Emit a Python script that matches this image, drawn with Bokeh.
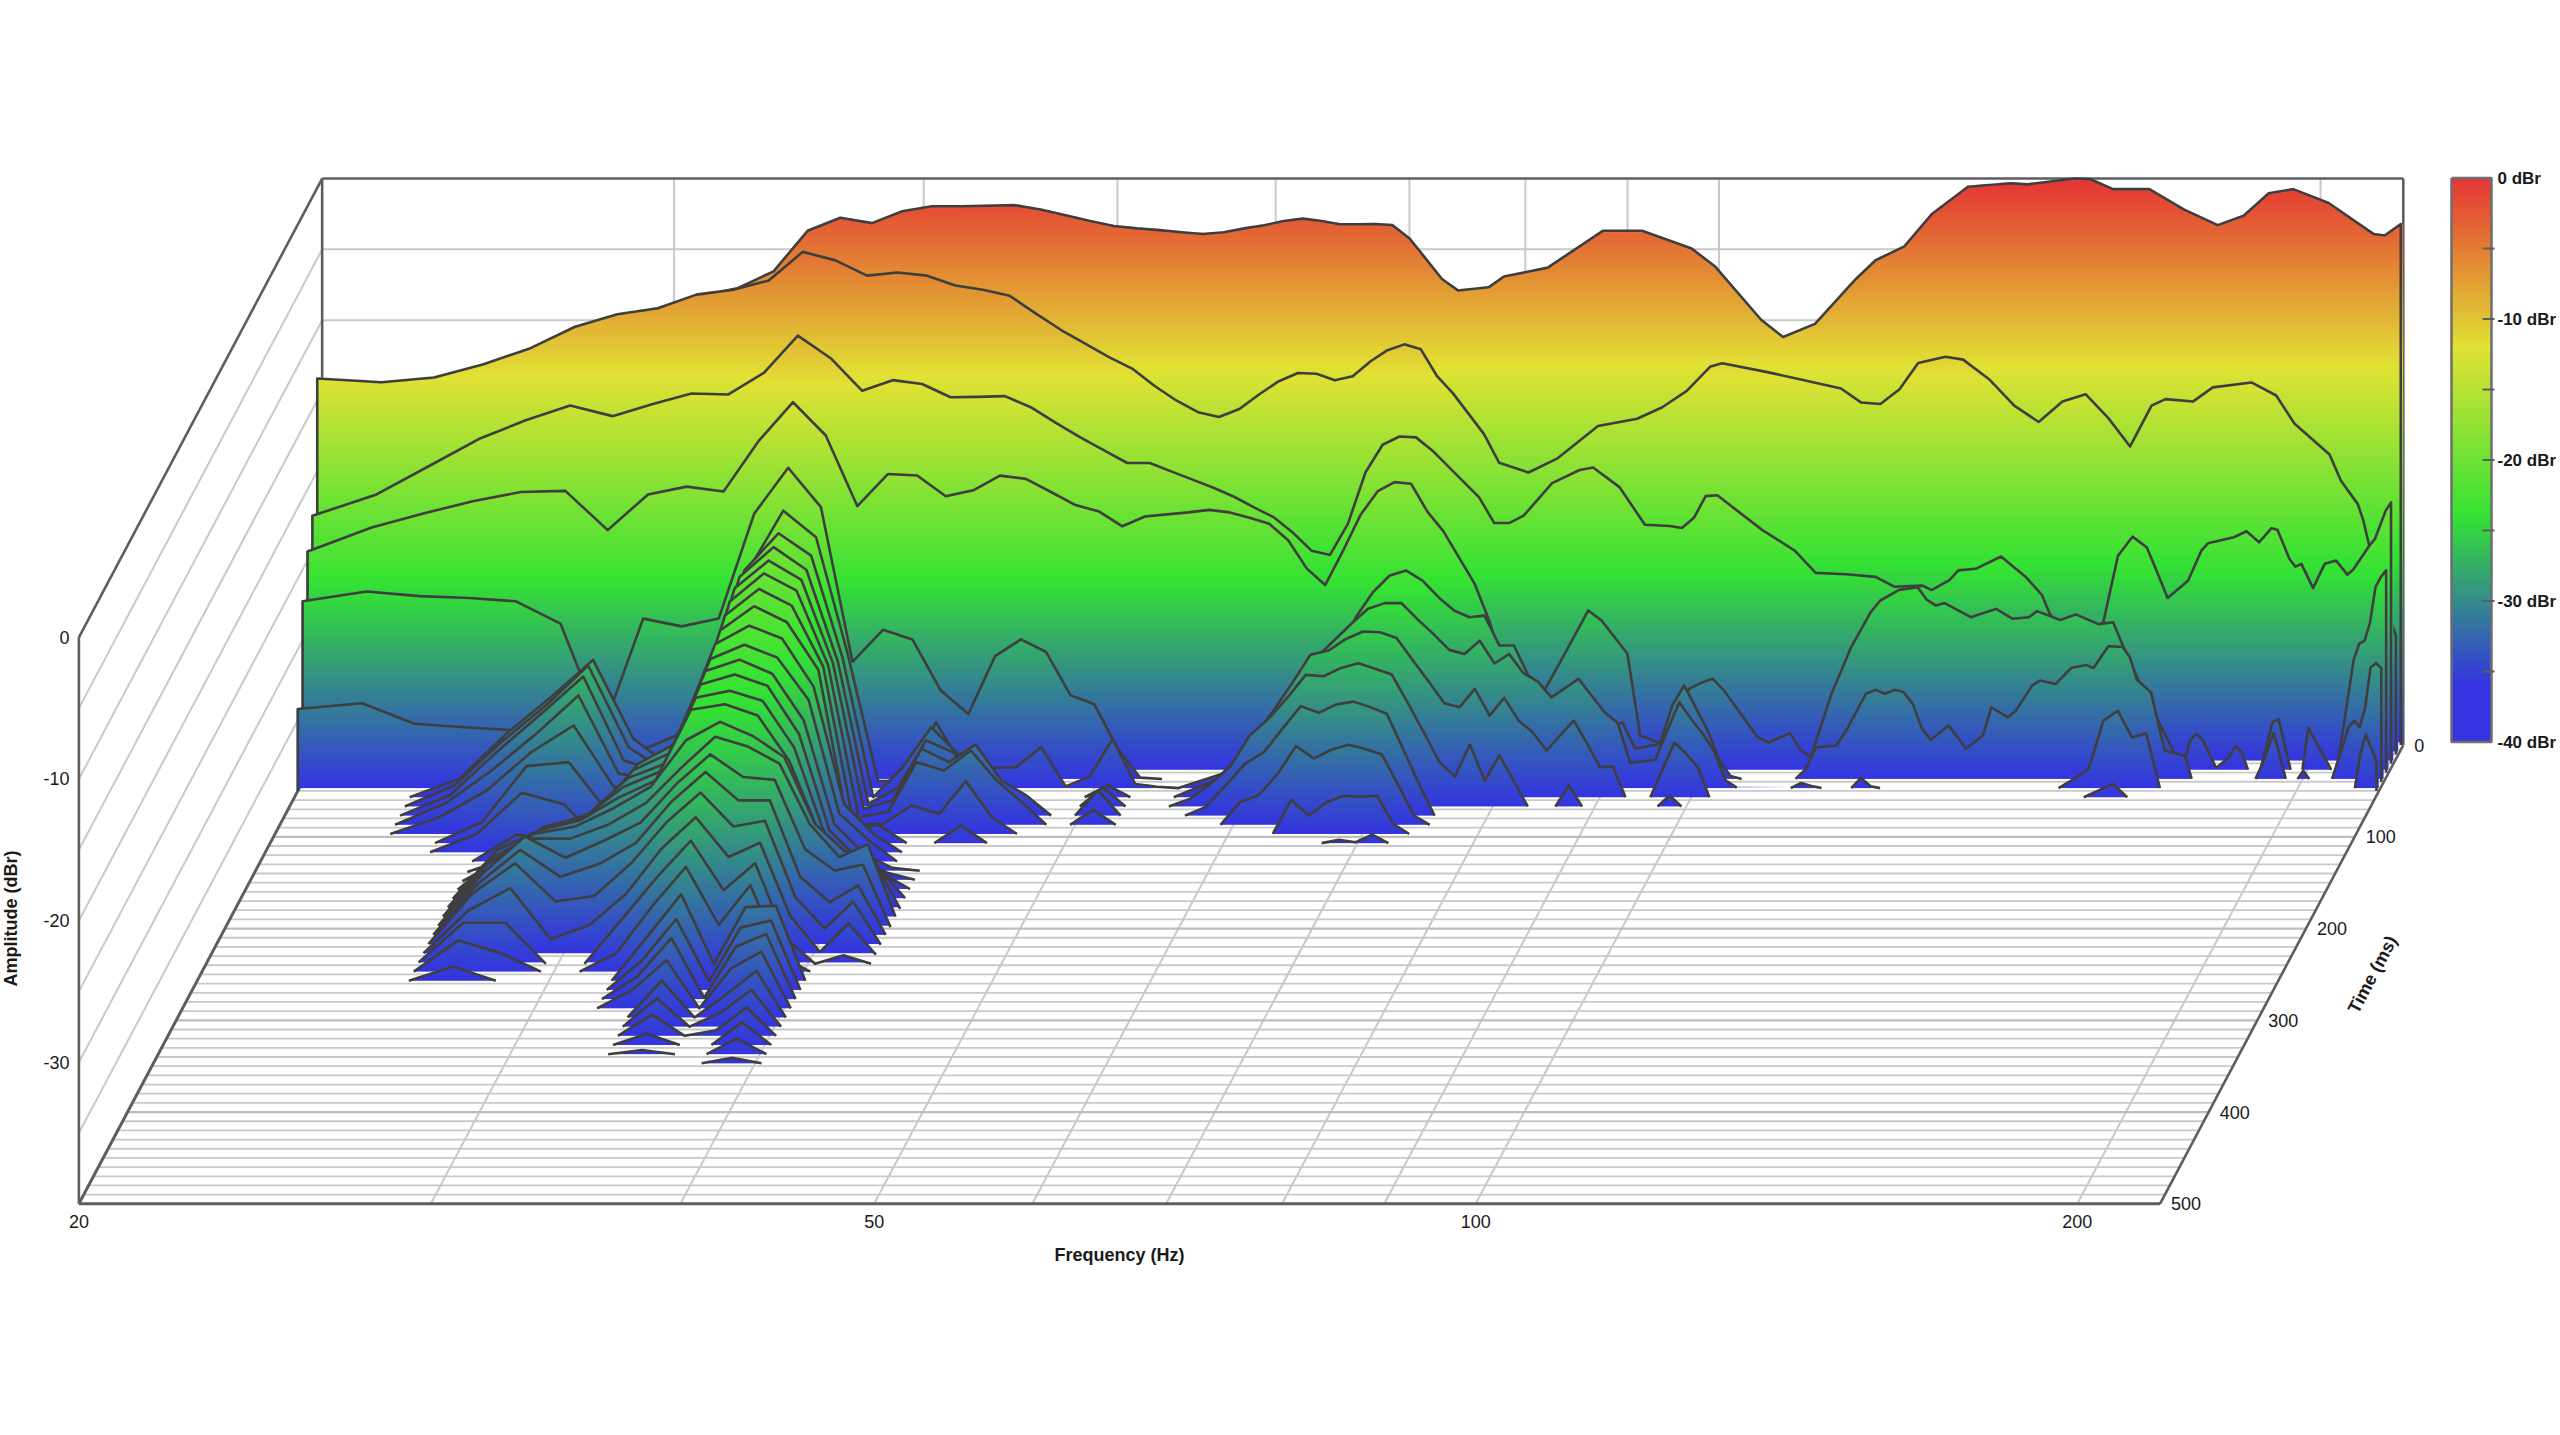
import numpy as np
from bokeh.plotting import figure
from bokeh.embed import file_html
from bokeh.resources import INLINE
from bokeh.core.properties import value

# ---------- data ----------
BIN_HZ = 1.3458
T000_BIN = [14.86,16,17,18,19,20,21,22,23,24,25,26,27,28,29,30,31,32,33,34,35,36,37,38,39,40,41,42,43,44,45,46,47,48,49,50,51,52,53,
            54,55,57,58,61,65,68,72,74,78,80,83,87,89,92,95,99,104,106,112,114,117,122,127,132,136,140,144,150,158,160,163]
T000_DB = [-14.4,-14.53,-14.18,-13.26,-12.1,-10.5,-9.75,-9.2,-8.3,-7.73,-6.55,-3.69,-2.77,-3.15,-2.31,-1.96,-1.96,-1.92,-1.88,-2.19,-2.59,-3.0,-3.35,-3.52,-3.64,-3.79,-3.92,-3.79,-3.52,-3.3,-3.0,-2.83,-3.0,-3.23,-3.23,-3.21,-3.29,-4.21,-5.65,
           -7.09,-7.9,-7.67,-6.92,-6.29,-3.69,-3.69,-4.94,-6.23,-9.97,-11.19,-10.26,-7.09,-5.77,-4.79,-2.48,-0.58,-0.33,-0.41,0.0,-0.05,-0.75,-0.75,-2.19,-3.29,-2.63,-1.04,-0.75,-1.73,-3.92,-4.02,-3.21]
T010_BIN = [14.86,16,17,18,19,20,21,22,23,24,25,26,27,28,29,30,31,32,33,34,35,36,37,38,39,40,41,42,43,44,45,46,47,48,49,50,51,52,53,
            54,55,57,58,60,62,65,68,70,72,74,75,79,82,86,88,90,92,94,97,99,102,105,108,111,114,117,120,123,125,129,132,138,142,145,151,153,156,157,158,160,163]
T010_DB = [-13.47,-13.73,-13.4,-12.47,-11.33,-9.82,-8.93,-8.51,-7.55,-7.2,-6.55,-4.53,-5.13,-6.21,-5.99,-6.21,-6.91,-7.2,-7.63,-8.87,-10.03,-11.01,-11.96,-12.77,-14.0,-15.04,-15.85,-16.19,-15.62,-14.58,-13.66,-13.08,-13.14,-13.6,-13.31,-12.27,-11.47,-11.06,-11.41,
           -13.31,-14.52,-17.4,-19.42,-20.11,-19.13,-16.83,-16.31,-15.5,-14.35,-12.62,-12.39,-13.02,-13.52,-14.18,-15.16,-15.27,-14.23,-12.37,-11.93,-12.14,-13.52,-15.39,-16.54,-15.1,-14.58,-16.25,-18.27,-15.39,-14.93,-15.1,-14.1,-13.75,-14.67,-16.65,-18.84,-20.69,-22.34,-23.51,-25.16,-28.3,-31.64]
T020_BIN = [14.86,16,17,18,19,20,21,22,23,24,25,26,27,28,29,30,31,32,33,34,35,36,37,38,39,40,41,42,43,44,45,46,47,48,49,50,51,52,53,
            54,57,58,59,60,62,64,65,67,69,71,72,73,74,75,79,82,84,87,90,92,95,96,98,99,101,104,107,109,110,113,117,119,121,123,124,126,129,131,132,136,138,140,142,143,145,146,147,149,151,153,155,156,159,160,162,163]
T020_DB = [-22.52,-21.01,-19.0,-17.1,-15.77,-14.73,-15.48,-14.62,-13.88,-13.95,-12.43,-9.8,-11.39,-13.69,-12.94,-13.21,-14.15,-14.12,-14.07,-14.85,-15.95,-16.98,-17.9,-18.79,-18.79,-19.4,-19.98,-20.55,-21.19,-21.94,-22.63,-23.72,-24.99,-25.28,-23.09,-19.46,-17.5,-16.92,-16.98,
           -17.9,-21.22,-23.03,-23.03,-22.51,-20.21,-19.28,-19.11,-20.49,-23.15,-23.24,-23.38,-22.66,-21.13,-21.07,-23.53,-24.97,-26.55,-26.64,-26.83,-27.53,-27.45,-27.76,-27.06,-26.37,-26.26,-25.39,-26.83,-28.1,-29.43,-31.67,-30.04,-25.34,-23.99,-24.74,-25.91,-28.32,-27.1,-24.98,-24.46,-24.03,-23.61,-24.39,-23.4,-23.51,-25.57,-26.11,-25.91,-27.62,-25.91,-25.68,-26.67,-26.34,-24.62,-24.15,-22.15,-21.57]

T030_BIN = [14.86,16,17,18,19,20,21,22,23,24,25,26,27,28,29,30,31,32,33,34,35,36,37,38,39,40,41,42,43,44,45,46,47,48,49,50,51,52,53,
            54,55,56,57,58,59,61,63,65,66,68,69,71,73,74,75,76,79,80,82,83,84,86,88,90,91,93,95,96,97,98,101,104,106,108,109,112,114,117,119,121,124,127,129,130,131,132,134,136,137,138,139,141,143,144,146,148,149,153,154,157,158,159,160,161,162,163]
T030_DB = [-24.39,-22.7,-21.69,-20.82,-20.19,-20.11,-22.88,-20.36,-19.81,-20.15,-16.56,-13.85,-16.2,-21.19,-18.92,-19.02,-20.49,-20.07,-19.03,-19.26,-20.19,-21.11,-21.57,-22.61,-21.92,-21.77,-21.63,-21.45,-21.63,-22.0,-22.43,-23.59,-25.6,-26.76,-24.34,-21.8,-20.13,-19.49,-19.61,
           -21.57,-22.95,-24.8,-26.62,-29.29,-32.75,-35.63,-32.08,-28.55,-29.26,-31.61,-37.38,-38.05,-34.09,-33.67,-33.37,-34.2,-37.5,-37.89,-37.21,-38.4,-38.91,-34.48,-31.14,-28.67,-27.85,-27.1,-26.91,-27.79,-28.2,-28.03,-29.03,-28.44,-29.14,-29.03,-28.6,-29.22,-28.83,-29.52,-29.39,-31.83,-35.06,-37.94,-39.8,-37.74,-37.27,-37.74,-39.67,-38.92,-38.13,-38.56,-39.8,-39.8,-36.44,-36.25,-39.8,-39.8,-36.84,-39.8,-39.8,-32.06,-30.91,-30.68,-29.39,-26.91,-26.2,-25.72]

T040_BIN = [14.86,16,17,18,19,20,21,22,23,24,25,26,27,28,29,30,31,32,33,34,35,36,37,38,39,40,
            46,48,50,51,52,53,54,55,56,57,58,59,60,61,62,63,66,68,69,71,72,73,75,76,77,78,
            83,84,85,87,88,90,91,92,93,94,95,96,97,99,101,103,104,106,107,109,110,112,114,116,117,119,121,122,123,125,127,130,131,
            141,142,144,146,148,149,150,154,157,158,159,160,161,162,163]
T040_DB = [-27.26,-26.57,-26.89,-27.03,-27.26,-28.83,-36.37,-28.48,-29.03,-28.48,-21.08,-17.83,-20.61,-31.53,-29.27,-29.95,-33.56,-35.22,-31.13,-29.95,-30.84,-33.9,-34.53,-37.64,-39.71,-39.8,
           -39.8,-33.26,-28.4,-26.62,-25.44,-25.09,-25.8,-26.97,-27.91,-28.38,-28.27,-30.38,-30.38,-32.5,-33.26,-35.56,-36.14,-35.84,-37.67,-37.33,-34.62,-33.2,-36.37,-38.45,-39.6,-39.8,
           -39.8,-39.09,-37.56,-37.44,-36.37,-33.79,-33.51,-33.79,-33.51,-33.67,-34.5,-36.25,-37.04,-36.02,-37.67,-36.74,-34.74,-35.45,-34.97,-33.21,-32.85,-33.1,-31.97,-31.76,-31.97,-30.43,-30.49,-31.2,-32.8,-33.69,-37.8,-38.16,-39.8,
           -39.8,-38.86,-36.55,-39.8,-39.8,-39.22,-39.8,-39.8,-36.14,-35.68,-36.14,-34.74,-31.92,-31.63,-31.97]

T050_BIN = [14.86,16,17,18,19,20,21,22,23,24,25,26,27,28,29,30,31,32,33,34,35,36,37,38,39,40,41,
            44,46,48,50,51,52,53,54,55,56,57,58,59,60,61,62,63,65,67,68,69,71,73,74,75,76,77,78,
            83,84,85,86,89,90,91,92,113,115,117,119,121,123,125,127,159,160,161,163]
T050_DB = [-34.22,-33.81,-35.26,-35.5,-35.7,-36.3,-36.76,-37.22,-36.07,-31.46,-24.31,-20.21,-22.09,-30.31,-39.3,-39.26,-35.15,-38.38,-38.38,-38.32,-36.91,-39.69,-38.99,-36.33,-39.51,-39.7,-39.8,
           -38.38,-35.5,-30.65,-28.23,-27.14,-26.74,-26.74,-27.89,-28.93,-30.04,-30.33,-29.39,-31.0,-30.33,-31.69,-32.27,-33.39,-32.09,-34.46,-35.2,-38.03,-37.8,-33.73,-34.92,-35.96,-37.22,-39.26,-39.76,
           -39.8,-39.44,-39.65,-39.8,-39.8,-39.08,-39.67,-39.8,-39.8,-39.17,-38.45,-35.04,-34.34,-36.22,-35.93,-39.8,-39.8,-37.39,-36.03,-37.86]

T060_BIN = [17,18,19,20,21,22,23,24,25,26,27,28,29,30,31,32,33,34,37,38,39,41,42,43,44,45,46,47,48,49,50,51,52,53,54,55,56,57,58,59,60,61,62,63,64,65,66,67,68,69,71,72,73,74,75,76,117,121,123]
T060_DB = [-39.8,-38.5,-35.32,-32.73,-30.1,-35.67,-37.73,-31.96,-23.78,-21.16,-22.74,-30.0,-39.8,-37.7,-34.85,-36.8,-38.5,-39.8,-39.8,-38.97,-39.8,-39.8,-39.2,-38.63,-37.21,-35.42,-33.68,-31.73,-29.73,-29.44,-28.62,-28.1,-28.15,-28.55,-30.12,-31.62,-33.16,-33.44,-32.15,-34.04,-32.78,-34.38,-35.21,-36.5,-35.42,-34.38,-36.0,-37.68,-37.62,-39.8,-39.8,-37.84,-35.95,-36.73,-37.68,-39.8,-39.8,-38.86,-39.8]

T070_BIN = [17,18,19,20,21,22,23,24,25,26,27,28,29,30,31,32,33,34,37,38,39,41,42,43,44,45,46,47,48,49,50,51,52,53,54,55,56,57,58,59,60,61,62,64,65,66,72,73,74]
T070_DB = [-39.8,-38.32,-35.26,-32.67,-29.85,-35.62,-37.42,-31.89,-23.59,-21.49,-23.09,-29.58,-39.61,-38.5,-35.14,-36.0,-38.0,-39.8,-39.8,-38.44,-39.8,-39.8,-39.27,-38.21,-37.0,-34.79,-33.6,-32.12,-30.51,-30.61,-30.02,-29.69,-30.08,-30.48,-32.51,-34.57,-36.67,-37.69,-35.43,-37.98,-36.21,-38.0,-39.8,-39.8,-38.32,-39.8,-39.8,-39.03,-39.8]

T080_BIN = [17,18,19,20,21,22,23,24,25,26,27,28,29,30,31,32,33,34,35,36,37,38,39,42,43,44,45,46,47,48,49,50,51,52,53,54,55,56]
T080_DB = [-39.8,-38.38,-35.32,-32.62,-29.98,-35.91,-36.77,-31.82,-23.75,-21.79,-23.16,-29.05,-39.31,-38.73,-35.08,-36.02,-34.78,-37.32,-38.39,-39.8,-39.8,-38.02,-39.8,-39.8,-39.2,-37.7,-36.15,-35.32,-33.66,-32.07,-32.54,-31.95,-31.75,-32.14,-32.61,-35.09,-37.56,-39.8]

T090_BIN = [17,18,19,20,21,22,23,24,25,26,27,28,29,30,31,32,33,34,35,36,37,38,39,44,45,46,47,48,49,50,51,52,53,54,55,56]
T090_DB = [-39.8,-38.32,-35.97,-33.38,-30.67,-36.2,-36.6,-32.33,-24.03,-22.05,-23.27,-28.53,-39.25,-38.9,-35.38,-35.97,-34.55,-36.68,-38.2,-39.8,-39.8,-38.75,-39.8,-39.8,-38.21,-37.7,-36.21,-34.25,-35.11,-34.5,-34.14,-34.45,-34.84,-37.0,-39.15,-39.8]

T100_BIN = [17,18,19,20,21,22,23,24,25,26,27,28,29,30,31,32,33,34,35,47,48,49,50,51,52,53,54,55]
T100_DB = [-39.8,-38.61,-36.73,-34.02,-32.14,-36.49,-36.29,-32.49,-24.38,-22.5,-23.68,-27.99,-39.17,-39.09,-37.79,-38.38,-36.07,-38.62,-39.8,-39.8,-37.4,-38.5,-37.56,-37.1,-37.17,-37.1,-39.09,-39.8]

T110_BIN = [18,19,20,21,22,23,24,25,26,27,28,29,30,31,32,33,34,50,51,52,53,54]
T110_DB = [-39.8,-38.32,-34.36,-34.08,-37.73,-36.21,-32.76,-24.79,-23.07,-24.2,-27.57,-38.87,-38.52,-39.8,-39.8,-38.56,-39.8,-39.8,-39.57,-39.74,-39.2,-39.8]

T120_BIN = [18,19,20,21,22,23,24,25,26,27,28,29,30,31]
T120_DB = [-39.8,-38.5,-35.6,-36.4,-39.4,-35.6,-31.4,-25.1,-23.8,-24.7,-28.1,-36.4,-38.5,-39.8]

T130_BIN = [19,20,21,22,23,24,25,26,27,28,29,30,31]
T130_DB = [-39.8,-37.9,-38.3,-36.4,-32.9,-31.5,-25.5,-24.5,-25.4,-28.4,-36.4,-38.3,-39.8]
T140_BIN = [19,20,21,22,23,24,25,26,27,28,29,30,31,32]
T140_DB = [-39.9,-38.8,-37.2,-35.8,-32.7,-31.5,-25.7,-24.9,-25.9,-29.2,-36.5,-38.6,-39.6,-39.8]
T150_BIN = [19,20,21,22,23,24,25,26,27,28,29,30,31,32]
T150_DB = [-39.9,-38.2,-36.1,-35.1,-32.6,-31.6,-26.0,-25.3,-26.1,-29.5,-36.3,-38.4,-39.3,-39.8]
T160_DB = [-39.85,-37.3,-35.4,-34.7,-32.6,-31.5,-26.3,-25.8,-26.5,-29.8,-35.9,-38.0,-38.7,-39.8]
T170_DB = [-39.84,-36.4,-35.0,-34.3,-32.7,-31.5,-26.5,-26.1,-26.9,-30.1,-35.3,-37.1,-37.6,-39.8]
T180_DB = [-39.8,-36.3,-34.6,-34.1,-32.8,-31.3,-28.0,-26.7,-27.7,-29.2,-33.9,-35.8,-36.3,-39.9]
T190_DB = [-39.8,-36.1,-34.3,-34.3,-33.3,-31.8,-29.3,-27.1,-27.8,-29.0,-33.3,-35.6,-34.7,-39.8]
T200_DB = [-39.8,-36.1,-33.5,-35.0,-33.8,-32.5,-29.8,-27.7,-29.3,-29.5,-34.4,-35.9,-35.5,-39.9]
T210_DB = [-39.8,-36.2,-33.8,-35.7,-34.8,-33.3,-30.4,-28.3,-30.3,-30.3,-35.7,-37.5,-36.3,-39.8]
T220_DB = [-39.8,-36.2,-34.1,-36.8,-36.4,-34.1,-31.2,-29.1,-31.5,-31.1,-36.5,-38.7,-36.8,-39.85]
T230_DB = [-39.8,-36.8,-35.2,-38.8,-37.8,-35.6,-32.4,-30.2,-33.0,-32.0,-37.2,-39.7,-37.7,-39.9]
T240_DB = [-39.8,-37.0,-37.0,-39.9,-39.9,-36.8,-33.8,-31.2,-34.7,-32.8,-38.1,-39.9,-39.3,-39.9]
RIDGE_BIN = [19,20,21,22,23,24,25,26,27,28,29,30,31,32]
T250_BIN = [19,20,21,22,23,24,25,26,27,28,29,30]
T250_DB = [-39.8,-37.6,-38.5,-39.8,-39.8,-38.5,-35.2,-32.4,-36.5,-33.7,-38.7,-39.8]
T260_DB = [-39.8,-38.8,-39.8,-39.9,-39.9,-39.8,-36.7,-33.7,-38.6,-34.6,-34.5,-39.8]
T270_BIN = [24,25,26,27,28,29,30]
T270_DB = [-39.8,-37.7,-34.8,-39.2,-35.4,-34.9,-39.8]
T280_DB = [-39.8,-38.2,-35.5,-39.7,-36.1,-35.2,-39.8]
T290_DB = [-39.8,-38.5,-36.4,-39.8,-37.0,-35.8,-39.8]
T300_BIN = [25,26,27,28,29,30]
T300_DB = [-39.8,-37.2,-39.8,-38.2,-36.5,-39.8]
T310_DB = [-39.8,-37.8,-39.8,-38.8,-37.2,-39.8]
T320_DB = [-39.8,-38.3,-39.8,-39.4,-37.8,-39.8]
T330_DB = [-39.8,-39.0,-39.8,-39.8,-38.2,-39.8]
T340_DB = [-39.8,-39.5,-39.8,-39.8,-38.7,-39.8]
T350_BIN = [28,29,30]
T350_DB = [-39.8,-39.4,-39.8]

FREQ_LINES = [30,40,50,60,70,80,90,100,200]
FREQ_LABELS = [20,50,100,200]
TIME_LABELS = [0,100,200,300,400,500]
AMP_LABELS = [0,-10,-20,-30]
BAR_LABELS = [0,-10,-20,-30,-40]
BAR_TICKS = [-5,-10,-15,-20,-25,-30,-35]

# ---------- layout ----------
W, H = 2556, 1430
PAGE = 0                     # the plot starts at the page's corner
PXX, PXY = 1998.4, 14.163
FX0, FY0 = 78.4, 1203.3      # page pixel of 20 Hz / -40 dB / 500 ms
SX, SY = 0.12173, 32.39      # oblique shift of the time axis
x0 = (PAGE - FX0) / PXX
y1 = -40 + (FY0 - PAGE) / PXY
def PX(px): return x0 + (px - PAGE) / PXX
def PY(py): return y1 - (py - PAGE) / PXY
def lg(f): return np.log10(np.asarray(f, float) / 20.0)
FMAX = lg(220.0)
FLOOR = -39.8

p = figure(width=W, height=H, output_backend="svg", toolbar_location=None,
           x_range=(x0, x0 + W / PXX), y_range=(y1 - H / PXY, y1),
           x_axis_location=None, y_axis_location=None, min_border=0,
           background_fill_color="white", border_fill_color="white")
p.grid.visible = False
p.outline_line_color = None

GRID, EDGE = "#c9c9c9", "#5e5e5e"
def seg(xa, ya, xb, yb, c=GRID, w=2.0):
    p.line([xa, xb], [ya, yb], line_color=c, line_width=w)
def ob(t): return 1 - t / 500.0

# back wall, side wall, floor
for db in range(-35, 0, 5):
    seg(SX, db + SY, SX + FMAX, db + SY)
    seg(0, db, SX, db + SY)
for f in FREQ_LINES:
    seg(SX + lg(f), -40 + SY, SX + lg(f), SY)
    seg(lg(f), -40, SX + lg(f), -40 + SY)
for t in range(10, 500, 10):
    thick = t % 100 == 0
    seg(SX * ob(t), -40 + SY * ob(t), FMAX + SX * ob(t), -40 + SY * ob(t),
        "#bdbdbd" if thick else GRID, 2.2 if thick else 1.8)
seg(SX, SY, SX + FMAX, SY, EDGE, 2.6)
seg(SX, SY, SX, -40 + SY, EDGE, 2.6)
seg(SX + FMAX, SY, SX + FMAX, -40 + SY, EDGE, 2.6)
seg(0, 0, SX, SY, EDGE, 2.6)
seg(0, 0, 0, -40, EDGE, 2.6)
seg(0, -40, FMAX, -40, EDGE, 3)
seg(0, -40, SX, -40 + SY, EDGE, 3)
seg(FMAX, -40, FMAX + SX, -40 + SY, EDGE, 2.6)

# colour ramp
C_R, C_Y, C_G, C_B = (229, 52, 52), (226, 226, 52), (52, 226, 52), (52, 52, 226)
def ramp(v, stops):
    ks = [stops[3], stops[2], stops[1], stops[0]]
    cs = [C_B, C_G, C_Y, C_R]
    return [np.interp(v, ks, [c[i] for c in cs]) for i in range(3)]
CHART_STOPS = (0, -13.27, -26.53, -39.8)
BAR_STOPS = (0, -12, -24, -36)

def rgba(r, g, b, a):
    img = np.zeros(r.shape, dtype=np.uint32)
    v = img.view(np.uint8).reshape(r.shape + (4,))
    v[..., 0], v[..., 1], v[..., 2], v[..., 3] = r, g, b, a
    return img

def draw(t, hz, db):
    lf = lg(hz); a = np.asarray(db, float)
    o = np.argsort(lf); lf, a = lf[o], a[o]
    sx, sy = SX * ob(t), SY * ob(t)
    cell = 2.0 if lf[-1] - lf[0] > 0.6 else 1.0
    dx, dy = cell / PXX, cell / PXY
    cols = np.arange(lf[0], lf[-1] + dx, dx)
    amp = np.interp(cols, lf, a)
    on = np.where(amp > FLOOR)[0]
    if len(on):
        i0, i1 = on[0], on[-1] + 1
        cols, amp = cols[i0:i1], amp[i0:i1]
        nr = int(np.ceil((amp.max() - FLOOR) / dy)) + 1
        rows = FLOOR + (np.arange(nr) + 0.5) * dy
        al = np.clip((amp[None, :] - rows[:, None]) / dy + 0.5, 0, 1) * 255
        r, g, b = ramp(rows, CHART_STOPS)
        sh = al.shape
        img = rgba(np.broadcast_to(r[:, None], sh), np.broadcast_to(g[:, None], sh),
                   np.broadcast_to(b[:, None], sh), al)
        p.image_rgba(image=[img], x=cols[0] - dx / 2 + sx, y=FLOOR + sy, dw=len(cols) * dx, dh=nr * dy)
    # outline, broken where the slice lies on the floor
    lx, ly = [], []
    for i in range(len(lf)):
        if i == 0 and a[0] > -39.75:
            lx.append(lf[0] + sx); ly.append(-40 + sy)
        if i > 0 and max(a[i - 1], a[i]) <= -39.75:
            lx.append(np.nan); ly.append(np.nan)
        lx.append(lf[i] + sx); ly.append(a[i] + sy)
    if a[-1] > -39.75:
        lx.append(lf[-1] + sx); ly.append(-40 + sy)
    p.line(lx, ly, line_color="#3e3e3e", line_width=2.6, line_join="round")

def bins(b): return np.asarray(b, float) * BIN_HZ

SLICES = [
    (0, bins(T000_BIN), T000_DB), (10, bins(T010_BIN), T010_DB), (20, bins(T020_BIN), T020_DB),
    (30, bins(T030_BIN), T030_DB), (40, bins(T040_BIN), T040_DB), (50, bins(T050_BIN), T050_DB),
    (60, bins(T060_BIN), T060_DB), (70, bins(T070_BIN), T070_DB), (80, bins(T080_BIN), T080_DB),
    (90, bins(T090_BIN), T090_DB), (100, bins(T100_BIN), T100_DB), (110, bins(T110_BIN), T110_DB),
    (120, bins(T120_BIN), T120_DB), (130, bins(T130_BIN), T130_DB), (140, bins(T140_BIN), T140_DB),
    (150, bins(T150_BIN), T150_DB), (160, bins(RIDGE_BIN), T160_DB), (170, bins(RIDGE_BIN), T170_DB),
    (180, bins(RIDGE_BIN), T180_DB), (190, bins(RIDGE_BIN), T190_DB), (200, bins(RIDGE_BIN), T200_DB),
    (210, bins(RIDGE_BIN), T210_DB), (220, bins(RIDGE_BIN), T220_DB), (230, bins(RIDGE_BIN), T230_DB),
    (240, bins(RIDGE_BIN), T240_DB), (250, bins(T250_BIN), T250_DB), (260, bins(T250_BIN), T260_DB),
    (270, bins(T270_BIN), T270_DB), (280, bins(T270_BIN), T280_DB), (290, bins(T270_BIN), T290_DB),
    (300, bins(T300_BIN), T300_DB), (310, bins(T300_BIN), T310_DB), (320, bins(T300_BIN), T320_DB),
    (330, bins(T300_BIN), T330_DB), (340, bins(T300_BIN), T340_DB), (350, bins(T350_BIN), T350_DB),
]
for t, hz, db in SLICES:
    draw(t, hz, db)

# colour bar
BX0, BX1, BY0, BY1 = 2451, 2491, 177.5, 741.5
vals = -40 + (np.arange(600) + 0.5) * 40 / 600
r, g, b = ramp(vals, BAR_STOPS)
sh = (600, 2)
bar = rgba(np.broadcast_to(r[:, None], sh), np.broadcast_to(g[:, None], sh),
           np.broadcast_to(b[:, None], sh), np.full(sh, 255))
bh = (BY1 - BY0) / PXY
p.image_rgba(image=[bar], x=PX(BX0), y=PY(BY1), dw=(BX1 - BX0) / PXX, dh=bh)
p.line([PX(BX0), PX(BX1), PX(BX1), PX(BX0), PX(BX0)], [PY(BY0), PY(BY0), PY(BY1), PY(BY1), PY(BY0)],
       line_color="#6e6e6e", line_width=2.5)
def bar_y(d): return PY(BY1) + (d + 40) / 40 * bh
for d in BAR_TICKS:
    seg(PX(BX1 - 9), bar_y(d), PX(BX1 + 3), bar_y(d), "#5e5e5e", 2)

# texts
FONT = value("Liberation Sans")
def label(x, y, s, size="18px", bold=False, align="center", angle=0):
    p.text([x], [y], text=[s], text_font=FONT, text_font_size=size,
           text_font_style="bold" if bold else "normal", text_align=align,
           text_baseline="middle", text_color="#1a1a1a", angle=angle)

for a in AMP_LABELS:
    label(PX(69), a, str(a), align="right")
for f in FREQ_LABELS:
    label(lg(f), PY(1221), str(f))
for t in TIME_LABELS:
    label(FMAX + SX * ob(t) + 11 / PXX, -40 + SY * ob(t), str(t), align="left")
for d in BAR_LABELS:
    label(PX(2497), bar_y(d), f"{d} dBr", size="17px", bold=True, align="left")
label(PX(1119), PY(1254), "Frequency (Hz)", size="18px", bold=True)
label(PX(10), PY(918), "Amplitude (dBr)", size="18px", bold=True, angle=np.pi / 2)
label(PX(2372), PY(974), "Time (ms)", size="18px", bold=True, angle=np.deg2rad(62))

open("out.html", "w").write(file_html(p, INLINE))
